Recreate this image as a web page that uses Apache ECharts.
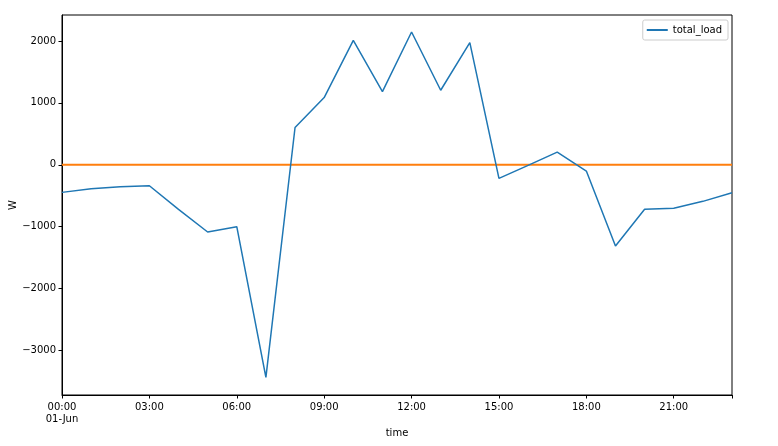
<!DOCTYPE html>
<html><head><meta charset="utf-8">
<script src="https://cdn.jsdelivr.net/npm/echarts@6/dist/echarts.min.js"></script>
<style>html,body{margin:0;padding:0;background:#fff}#c{width:778px;height:446px}</style>
</head><body><div id="c"></div>
<script>
const hours = ['00:00','01:00','02:00','03:00','04:00','05:00','06:00','07:00','08:00','09:00','10:00','11:00','12:00','13:00','14:00','15:00','16:00','17:00','18:00','19:00','20:00','21:00','22:00','23:00'];
const totalLoad = [-446,-387,-355,-339,-720,-1086,-1000,-3435,602,1086,2011,1183,2145,1204,1973,-220,-10,204,-102,-1312,-720,-704,-591,-452];
const zeroLine = [0,0,0,0,0,0,0,0,0,0,0,0,0,0,0,0,0,0,0,0,0,0,0,0];
const yTicks = [-3000,-2000,-1000,0,1000,2000];
const yMin = -3720, yMax = 2420;
const font = 'DejaVu Sans';
const chart = echarts.init(document.getElementById('c'));
chart.setOption({
  animation:false,
  grid:{left:62,right:46,top:15,bottom:51,outerBoundsMode:'none',containLabel:false,show:true,borderColor:'#000',borderWidth:1,backgroundColor:'transparent'},
  legend:{right:50,top:20,itemWidth:21,itemHeight:2,itemGap:5,padding:[5,6,5,4],
    borderColor:'#ccc',borderWidth:1,borderRadius:2,
    data:[{name:'total_load',icon:'rect'}],
    textStyle:{fontFamily:font,fontSize:10,color:'#000'}},
  xAxis:{type:'category',data:hours,boundaryGap:false,
    name:'time',nameLocation:'middle',nameGap:33,nameMoveOverlap:false,nameTextStyle:{fontFamily:font,fontSize:10,color:'#000'},
    axisLine:{onZero:false,lineStyle:{color:'#000'}},
    axisTick:{length:3.5,lineStyle:{color:'#000'},interval:(i)=>i%3===0||i===23},
    axisLabel:{fontFamily:font,fontSize:10,color:'#000',margin:6,lineHeight:12,
      interval:(i)=>i%3===0,
      formatter:(v,i)=> i===0 ? v+'\n01-Jun' : v},
    splitLine:{show:false}},
  yAxis:{type:'value',min:yMin,max:yMax,
    name:'W',nameLocation:'middle',nameGap:44,nameMoveOverlap:false,nameRotate:90,nameTextStyle:{fontFamily:font,fontSize:10,color:'#000'},
    axisLine:{show:true,onZero:false,lineStyle:{color:'#000'}},
    axisTick:{show:true,length:3.5,lineStyle:{color:'#000'},customValues:yTicks},
    axisLabel:{fontFamily:font,fontSize:10,color:'#000',margin:6,customValues:yTicks,
      formatter:(v)=>String(v).replace('-','\u2212')},
    splitLine:{show:false}},
  series:[
    {name:'total_load',type:'line',data:totalLoad,symbol:'none',lineStyle:{color:'#1f77b4',width:1.5},itemStyle:{color:'#1f77b4'},z:3},
    {name:'zero',type:'line',data:zeroLine,symbol:'none',lineStyle:{color:'#ff7f0e',width:2},itemStyle:{color:'#ff7f0e'},z:2}
  ]
});
</script></body></html>
